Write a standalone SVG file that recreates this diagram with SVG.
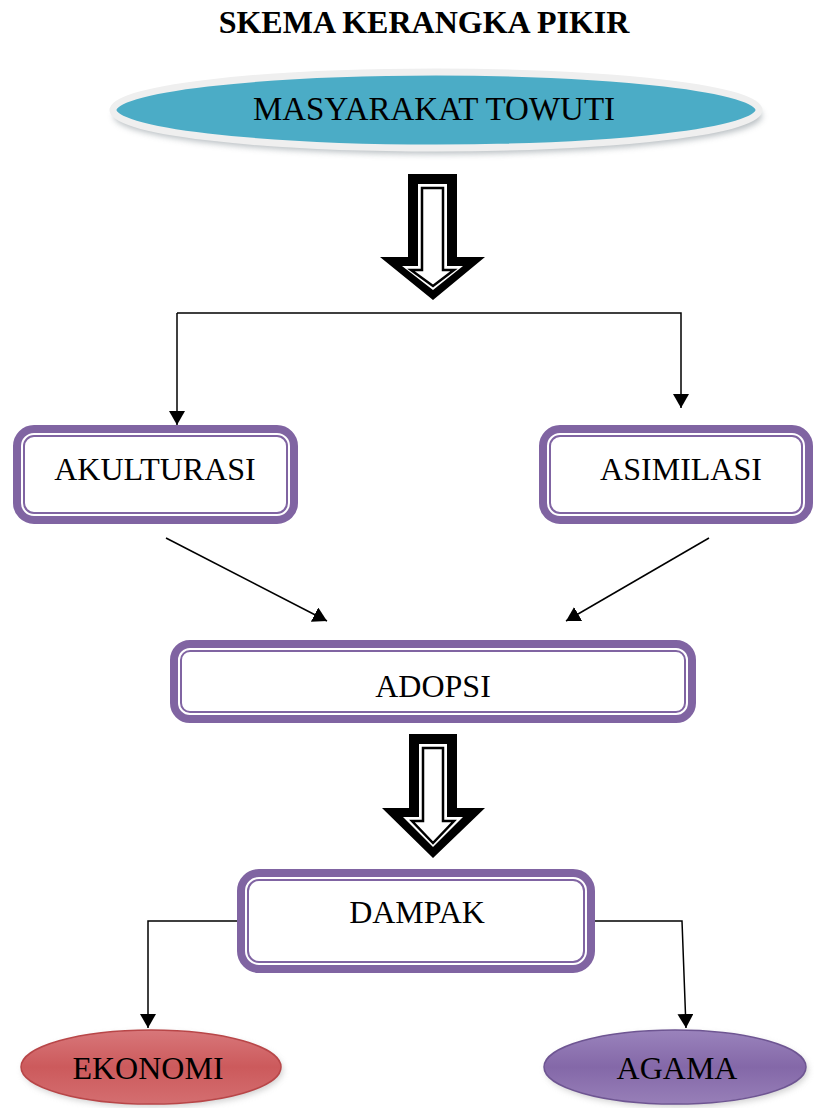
<svg xmlns="http://www.w3.org/2000/svg" width="814" height="1108" viewBox="0 0 814 1108">
<style>
.t{font-family:"Liberation Serif","Times New Roman",serif;font-size:32px;fill:#000;text-anchor:middle}
.title{font-weight:bold}
.outer{fill:#fff;stroke:#8064A2;stroke-width:8}
.inner{fill:none;stroke:#8064A2;stroke-width:2}
.conn{fill:none;stroke:#000;stroke-width:1.5}
.big1{fill:#000}
.big2{fill:#fff}
.big3{fill:#fff;stroke:#000;stroke-width:2.5}
</style>
<defs>
<marker id="ah" markerUnits="userSpaceOnUse" markerWidth="16" markerHeight="16" viewBox="0 0 16 16" refX="14" refY="8" orient="auto">
<path d="M0,0 L14,8 L0,16 Z" fill="#000"/>
</marker>
<filter id="blur" x="-10%" y="-50%" width="120%" height="200%"><feGaussianBlur stdDeviation="3"/></filter>
<linearGradient id="gRed" x1="0" y1="0" x2="0" y2="1">
<stop offset="0" stop-color="#D8777A"/><stop offset="0.5" stop-color="#CC5A5C"/><stop offset="1" stop-color="#D46E70"/>
</linearGradient>
<linearGradient id="gPur" x1="0" y1="0" x2="0" y2="1">
<stop offset="0" stop-color="#9A83BC"/><stop offset="0.5" stop-color="#8468A8"/><stop offset="1" stop-color="#977FB8"/>
</linearGradient>
</defs>
<rect width="814" height="1108" fill="#fff"/>

<text class="t title" x="424" y="33">SKEMA KERANGKA PIKIR</text>

<g id="masyarakat">
<ellipse cx="438" cy="116" rx="324" ry="38" fill="#9aa3a8" filter="url(#blur)" opacity="0.7"/>
<ellipse cx="436" cy="110" rx="323" ry="38" fill="#4BACC6" stroke="#EFEFEF" stroke-width="7"/>
<text class="t" x="434" y="120" style="font-size:33px">MASYARAKAT TOWUTI</text>
</g>

<g id="arrow1">
<polygon class="big1" points="408,174 457,174 457,257 485,257 433,300 380,257 408,257"/>
<polygon class="big2" points="418,184 447,184 447,266 463,266 433,290 402,266 418,266"/>
<polygon class="big3" points="422,188 443,188 443,270 454,270 433,286 411,270 422,270"/>
</g>

<g id="akulturasi">
<rect class="outer" x="17" y="429" width="277" height="91" rx="17"/>
<rect class="inner" x="24" y="436" width="263" height="77" rx="10"/>
<text class="t" x="155" y="480">AKULTURASI</text>
</g>

<g id="asimilasi">
<rect class="outer" x="543" y="429" width="266" height="91" rx="17"/>
<rect class="inner" x="550" y="436" width="252" height="77" rx="10"/>
<text class="t" x="681" y="480">ASIMILASI</text>
</g>

<g id="adopsi">
<rect class="outer" x="174" y="644" width="518" height="75" rx="16"/>
<rect class="inner" x="181" y="651" width="504" height="61" rx="9"/>
<text class="t" x="433" y="697">ADOPSI</text>
</g>

<g id="arrow2">
<polygon class="big1" points="409,734 457,734 457,808 485,808 433,858 382,808 409,808"/>
<polygon class="big2" points="419,744 447,744 447,817 463,817 433,847 403,817 419,817"/>
<polygon class="big3" points="423,748 443,748 443,821 454,821 433,843 412,821 423,821"/>
</g>

<g id="dampak">
<rect class="outer" x="241" y="873" width="350" height="96" rx="18"/>
<rect class="inner" x="248" y="880" width="336" height="82" rx="11"/>
<text class="t" x="417" y="923">DAMPAK</text>
</g>

<g id="ekonomi">
<ellipse cx="153" cy="1070" rx="130" ry="37" fill="#b0b0b0" filter="url(#blur)" opacity="0.6"/>
<ellipse cx="151" cy="1067" rx="130" ry="37" fill="url(#gRed)" stroke="#B84648" stroke-width="1.5"/>
<text class="t" x="148" y="1079">EKONOMI</text>
</g>

<g id="agama">
<ellipse cx="677" cy="1070" rx="131" ry="37" fill="#b0b0b0" filter="url(#blur)" opacity="0.6"/>
<ellipse cx="675" cy="1067" rx="131" ry="37" fill="url(#gPur)" stroke="#6E5592" stroke-width="1.5"/>
<text class="t" x="677" y="1079">AGAMA</text>
</g>

<g id="connectors">
<polyline class="conn" points="177,313 681,313 681,408" marker-end="url(#ah)"/>
<path class="conn" d="M177,313 L177,425" marker-end="url(#ah)"/>
<line class="conn" x1="166" y1="538" x2="327" y2="621" marker-end="url(#ah)"/>
<line class="conn" x1="709" y1="538" x2="566" y2="621" marker-end="url(#ah)"/>
<polyline class="conn" points="237,921 148,921 148,1028" marker-end="url(#ah)"/>
<polyline class="conn" points="595,921 682,921 686,1028" marker-end="url(#ah)"/>
</g>
</svg>
